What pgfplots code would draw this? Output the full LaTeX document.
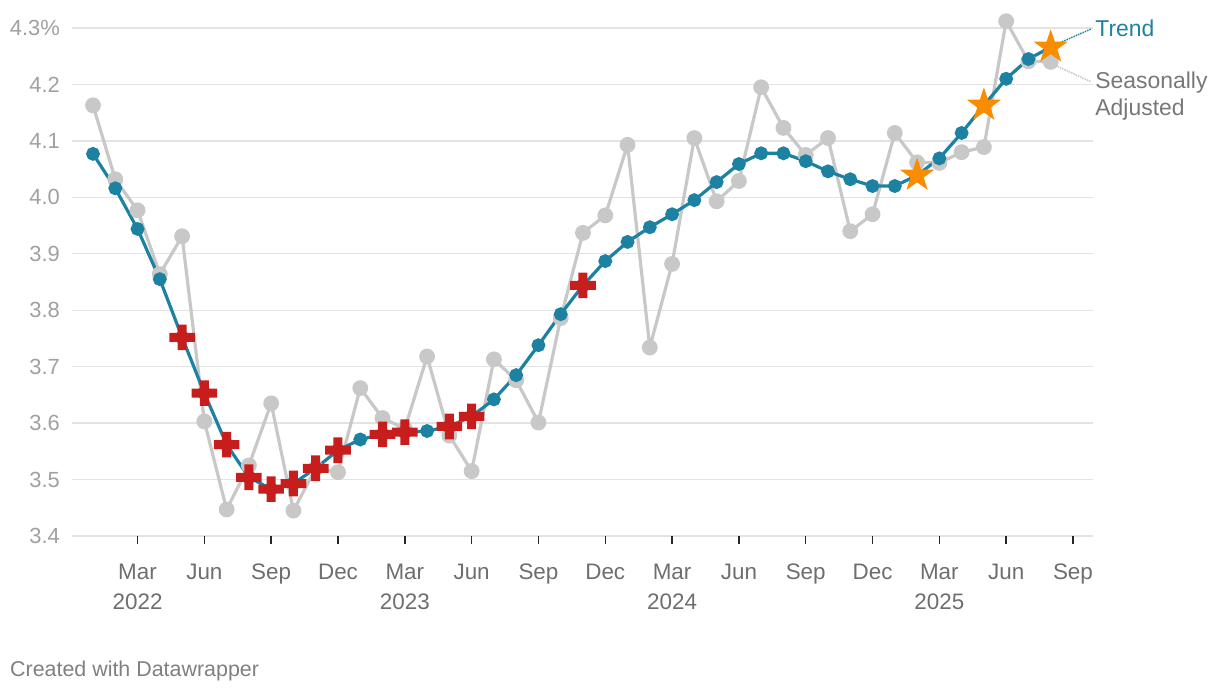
\documentclass[border=0pt]{standalone}
\usepackage{fontspec}
\setmainfont{Liberation Sans}
\usepackage{pgfplots}
\usepackage{pgfplotstable}
\pgfplotsset{compat=1.18}
\definecolor{trend}{HTML}{1D81A2}
\definecolor{sa}{HTML}{C8C8C8}
\definecolor{crossred}{HTML}{C71E1D}
\definecolor{starorange}{HTML}{FA8C00}
\definecolor{gridc}{HTML}{E3E3E3}
\definecolor{ylab}{HTML}{A0A0A0}
\definecolor{xlab}{HTML}{6E6E6E}
\definecolor{salab}{HTML}{777777}

\pgfdeclareplotmark{bigcross}{%
  \pgfpathmoveto{\pgfpoint{-4.5bp}{12.8bp}}%
  \pgfpathlineto{\pgfpoint{4.5bp}{12.8bp}}%
  \pgfpathlineto{\pgfpoint{4.5bp}{4.5bp}}%
  \pgfpathlineto{\pgfpoint{12.8bp}{4.5bp}}%
  \pgfpathlineto{\pgfpoint{12.8bp}{-4.5bp}}%
  \pgfpathlineto{\pgfpoint{4.5bp}{-4.5bp}}%
  \pgfpathlineto{\pgfpoint{4.5bp}{-12.8bp}}%
  \pgfpathlineto{\pgfpoint{-4.5bp}{-12.8bp}}%
  \pgfpathlineto{\pgfpoint{-4.5bp}{-4.5bp}}%
  \pgfpathlineto{\pgfpoint{-12.8bp}{-4.5bp}}%
  \pgfpathlineto{\pgfpoint{-12.8bp}{4.5bp}}%
  \pgfpathlineto{\pgfpoint{-4.5bp}{4.5bp}}%
  \pgfpathclose
  \pgfusepathqfill}
\pgfdeclareplotmark{bigstar}{%
  \pgfpathmoveto{\pgfpointpolar{90}{18bp}}%
  \pgfpathlineto{\pgfpointpolar{126}{7bp}}%
  \pgfpathlineto{\pgfpointpolar{162}{18bp}}%
  \pgfpathlineto{\pgfpointpolar{198}{7bp}}%
  \pgfpathlineto{\pgfpointpolar{234}{18bp}}%
  \pgfpathlineto{\pgfpointpolar{270}{7bp}}%
  \pgfpathlineto{\pgfpointpolar{306}{18bp}}%
  \pgfpathlineto{\pgfpointpolar{342}{7bp}}%
  \pgfpathlineto{\pgfpointpolar{18}{18bp}}%
  \pgfpathlineto{\pgfpointpolar{54}{7bp}}%
  \pgfpathclose
  \pgfusepathqfill}

\pgfplotstableread{
m v
0 4.163
1 4.032
2 3.977
3 3.864
4 3.931
5 3.603
6 3.447
7 3.525
8 3.635
9 3.445
10 3.520
11 3.513
12 3.662
13 3.609
14 3.590
15 3.718
16 3.578
17 3.515
18 3.713
19 3.676
20 3.601
21 3.786
22 3.937
23 3.968
24 4.093
25 3.734
26 3.882
27 4.105
28 3.993
29 4.029
30 4.195
31 4.123
32 4.075
33 4.105
34 3.940
35 3.970
36 4.114
37 4.062
38 4.061
39 4.080
40 4.089
41 4.312
42 4.241
43 4.240
}\sadata

\pgfplotstableread{
m v
0 4.077
1 4.016
2 3.944
3 3.855
4 3.752
5 3.653
6 3.562
7 3.504
8 3.483
9 3.493
10 3.520
11 3.552
12 3.571
13 3.580
14 3.584
15 3.586
16 3.594
17 3.612
18 3.642
19 3.685
20 3.738
21 3.793
22 3.844
23 3.887
24 3.921
25 3.947
26 3.970
27 3.995
28 4.027
29 4.059
30 4.078
31 4.078
32 4.064
33 4.046
34 4.032
35 4.020
36 4.020
37 4.039
38 4.069
39 4.114
40 4.163
41 4.210
42 4.245
43 4.266
}\trenddata

\pgfplotstableread{
m v
4 3.752
5 3.653
6 3.562
7 3.504
8 3.483
9 3.493
10 3.520
11 3.552
13 3.580
14 3.584
16 3.594
17 3.612
22 3.844
}\crossdata

\pgfplotstableread{
m v
37 4.039
40 4.163
43 4.266
}\stardata

\begin{document}
\begin{tikzpicture}
\path (0,0) rectangle (1220bp,692bp);
\begin{axis}[
  at={(72bp,156bp)}, anchor=south west,
  scale only axis, width=1021bp, height=508bp,
  xmin=-0.943, xmax=44.9, ymin=3.4, ymax=4.3,
  clip=false,
  axis line style={draw=none},
  ymajorgrids,
  major grid style={gridc, line width=1.3bp},
  ytick={3.4,3.5,3.6,3.7,3.8,3.9,4.0,4.1,4.2,4.3},
  yticklabels={3.4,3.5,3.6,3.7,3.8,3.9,4.0,4.1,4.2,4.3\%},
  xtick={2,5,8,11,14,17,20,23,26,29,32,35,38,41,44},
  xticklabels={{Mar\\2022},Jun,Sep,Dec,{Mar\\2023},Jun,Sep,Dec,{Mar\\2024},Jun,Sep,Dec,{Mar\\2025},Jun,Sep},
  xtick pos=left, ytick pos=left,
  tick align=outside,
  major tick length=8bp,
  xtick style={draw=black!85, line width=1.5bp},
  ytick style={draw=none},
  xticklabel style={font=\fontsize{22.5}{30}\selectfont, text=xlab, align=center, anchor=north, inner sep=0pt, yshift=-20bp},
  yticklabel style={font=\fontsize{22}{26}\selectfont, text=ylab, anchor=east, inner sep=0pt, xshift=-4bp},
]
\addplot[sa, line width=3.2bp, mark=*, mark size=6.3bp, mark options={draw=none, fill=sa}] table[x=m, y=v] {\sadata};
\addplot[trend, line width=3.2bp, mark=*, mark size=5.3bp, mark options={draw=none, fill=trend}] table[x=m, y=v] {\trenddata};
\addplot[only marks, mark=bigcross, mark options={fill=crossred}] table[x=m, y=v] {\crossdata};
\addplot[only marks, mark=bigstar, mark options={fill=starorange}] table[x=m, y=v] {\stardata};
\addplot[trend, line width=1.5bp, densely dotted] coordinates {(43.3,4.272) (44.8,4.298)};
\addplot[sa, line width=1.5bp, densely dotted] coordinates {(43.3,4.232) (44.8,4.205)};
\node[anchor=base west, inner sep=0pt, text=trend, font=\fontsize{23}{27}\selectfont] at (axis cs:45.0,4.2858) {Trend};
\node[anchor=base west, inner sep=0pt, text=salab, font=\fontsize{23}{27}\selectfont] at (axis cs:45.0,4.1936) {Seasonally};
\node[anchor=base west, inner sep=0pt, text=salab, font=\fontsize{23}{27}\selectfont] at (axis cs:45.0,4.1457) {Adjusted};
\end{axis}
\node[anchor=base west, inner sep=0pt, text=black!50, font=\fontsize{21.5}{24}\selectfont] at (10bp,16bp) {Created with Datawrapper};
\end{tikzpicture}
\end{document}
